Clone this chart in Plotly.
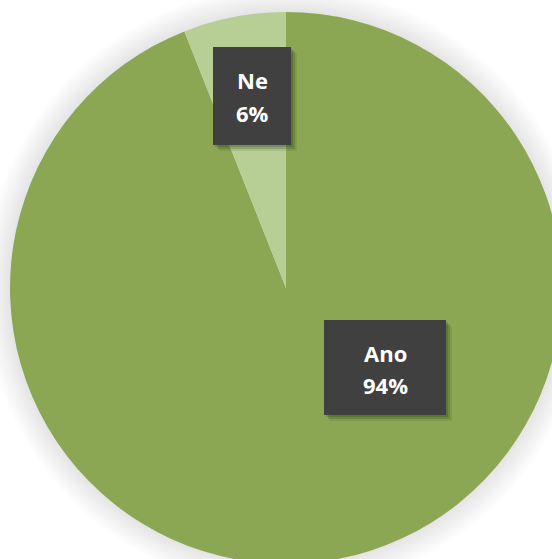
import plotly.graph_objects as go

# Survey answers (Czech: "Ano" = yes, "Ne" = no)
categories = ["Ano", "Ne"]
values = [94, 6]
colors = ["#8BA753", "#B7CE95"]

# Figure geometry in pixels
W, H = 572, 576
ML, MR, MT, MB = 10, 10, 12, 12
PW, PH = W - ML - MR, H - MT - MB


def px_x(x):
    return (x - ML) / PW


def px_y(y):
    return 1 - (y - MT) / PH


fig = go.Figure(
    go.Pie(
        labels=categories,
        values=values,
        marker=dict(colors=colors, line=dict(width=0)),
        sort=False,
        direction="clockwise",
        rotation=0,
        textinfo="none",
        hoverinfo="label+percent",
        showlegend=False,
    )
)

shapes = []
# Soft grey glow around the pie
cx, cy, r = ML + PW / 2, MT + PH / 2, min(PW, PH) / 2
for k in range(1, 14):
    rr = r + 2 * k
    shapes.append(dict(
        type="circle", xref="paper", yref="paper", layer="below",
        x0=px_x(cx - rr), x1=px_x(cx + rr), y0=px_y(cy + rr), y1=px_y(cy - rr),
        fillcolor="rgba(0,0,0,0.009)", line=dict(width=0),
    ))

# Dark callout boxes: (x0, y0, x1, y1) in pixels
boxes = {
    "Ne": (213, 47, 291, 145),
    "Ano": (324, 320, 446, 415),
}
text_rows = {
    "Ne": (80, 113),
    "Ano": (353, 385),
}

annotations = []
total = sum(values)
for cat, val in zip(categories, values):
    x0, y0, x1, y1 = boxes[cat]
    # drop shadow
    for off, a in ((6, 0.10), (4, 0.16), (2, 0.18)):
        shapes.append(dict(
            type="rect", xref="paper", yref="paper", layer="above",
            x0=px_x(x0 + off), x1=px_x(x1 + off), y0=px_y(y1 + off), y1=px_y(y0 + off),
            fillcolor=f"rgba(20,40,0,{a})", line=dict(width=0),
        ))
    shapes.append(dict(
        type="rect", xref="paper", yref="paper", layer="above",
        x0=px_x(x0), x1=px_x(x1), y0=px_y(y1), y1=px_y(y0),
        fillcolor="#404040", line=dict(width=0),
    ))
    xc = px_x((x0 + x1) / 2)
    r1, r2 = text_rows[cat]
    pct = round(100 * val / total)
    for row_text, row_y in ((cat, r1), (f"{pct}%", r2)):
        annotations.append(dict(
            x=xc, y=px_y(row_y), xref="paper", yref="paper",
            text=f"<b>{row_text}</b>", showarrow=False,
            xanchor="center", yanchor="middle",
            font=dict(family="Open Sans", size=22, color="white"),
        ))

fig.update_layout(
    width=W, height=H,
    margin=dict(l=ML, r=MR, t=MT, b=MB, pad=0),
    paper_bgcolor="white",
    plot_bgcolor="white",
    shapes=shapes,
    annotations=annotations,
)

fig.write_html(
    "out.html",
    post_script="document.documentElement.style.overflow='hidden';document.body.style.overflow='hidden';document.body.style.margin='0';",
)
